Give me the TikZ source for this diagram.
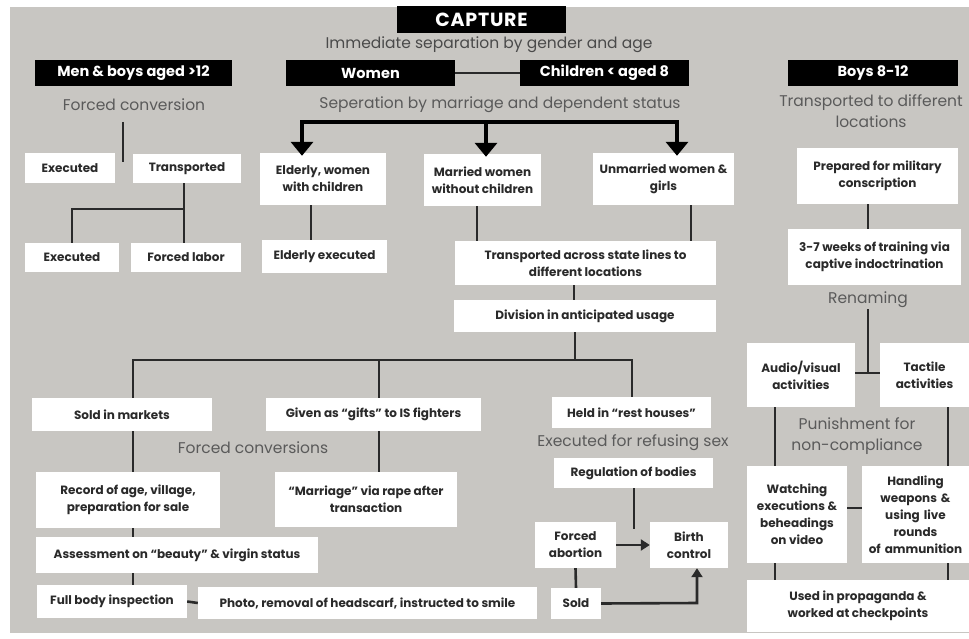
\documentclass[tikz,border=0pt]{standalone}
\usepackage{fontspec}
\setmainfont{Poppins}
\usepackage{tikz}
\usetikzlibrary{arrows.meta,positioning,calc}
\definecolor{paper}{HTML}{C8C6C2}
\definecolor{ink}{HTML}{2A2A2A}
\definecolor{note}{HTML}{5A5A5A}

\begin{document}
\begin{tikzpicture}[x=1pt, y=-1pt,
    box/.style={fill=white, text=ink, inner sep=2pt, align=center,
      font=\fontsize{12}{17}\selectfont\bfseries},
    head/.style={fill=black, text=white, inner sep=2pt,
      font=\fontsize{14.5}{16}\selectfont\bfseries},
    label/.style={text=note, align=center, inner sep=1pt,
      font=\fontsize{15.5}{21}\selectfont},
    sz/.style 2 args={minimum width=#1pt, minimum height=#2pt},
    link/.style={draw=ink, line width=2.6pt},
    bigarrow/.style={draw=black, line width=4pt, -{Triangle[width=22pt,length=14pt]}},
    smallarrow/.style={draw=ink, line width=2.6pt, -{Triangle[width=11pt,length=9pt]}}]

        \fill[white] (0,0) rectangle (969,639);
        \fill[paper] (10,7) rectangle (969,633);
        \useasboundingbox (0,0) rectangle (969,639);

        %% top row
        \node (capture) [head, sz={169}{27}, font=\fontsize{19}{20}\selectfont\bfseries\addfontfeature{LetterSpace=4}] at (481.5,19.5) {CAPTURE};
        \node (immediate) [label, text=ink!85] at (489,45) {Immediate separation by gender and age};
        \node (men) [head, sz={197}{26}] at (133.5,73) {Men \& boys aged >12};
        \node (women) [head, sz={169}{26}] at (370.5,73) {Women};
        \node (children) [head, sz={169}{26}] at (604.5,73) {Children < aged 8};
        \node (boys) [head, sz={170}{26}] at (873,73) {Boys 8-12};

        \node (fconv) [label] at (134,105) {Forced conversion};
        \node (seperation) [label] at (500,105) {Seperation by marriage and dependent status};
        \node (tolocations) [label] at (871,111) {Transported to different\\locations};

        %% men
        \node (exec1) [box, sz={90}{30}] at (70,168) {Executed};
        \node (transp) [box, sz={108}{29}] at (187,168.5) {Transported};
        \node (exec2) [box, sz={94}{29}] at (72,257.5) {Executed};
        \node (labor) [box, sz={110}{29}] at (186,257.5) {Forced labor};

        %% women and children
        \node (elderly) [box, sz={126}{52}] at (323,179) {Elderly, women\\with children};
        \node (married) [box, sz={117}{52}] at (482.5,180) {Married women\\without children};
        \node (unmarried) [box, sz={141}{52}] at (663.5,179) {Unmarried women \&\\girls};
        \node (eldexec) [box, sz={125}{33}] at (324.5,256.5) {Elderly executed};
        \node (across) [box, sz={261}{44}] at (585.5,263) {Transported across state lines to\\different locations};
        \node (division) [box, sz={262}{32}] at (585,316) {Division in anticipated usage};

        \node (markets) [box, sz={180}{33}] at (122,414.5) {Sold in markets};
        \node (gifts) [box, sz={215}{33}] at (373.5,414.5) {Given as ``gifts'' to IS fighters};
        \node (rest) [box, sz={159}{31}] at (631.5,412.5) {Held in ``rest houses''};
        \node (fconvs) [label] at (253,448) {Forced conversions};
        \node (refusing) [label] at (633,443) {Executed for refusing sex};

        \node (record) [box, sz={184}{56}] at (128,500) {Record of age, village,\\preparation for sale};
        \node (marriage) [box, sz={182}{55}] at (366,499.5) {``Marriage'' via rape after\\transaction};
        \node (regulation) [box, sz={159}{30}] at (633.5,473) {Regulation of bodies};
        \node (assess) [box, sz={282}{36}] at (177,555) {Assessment on ``beauty'' \& virgin status};
        \node (abortion) [box, sz={81}{46}] at (575.5,545) {Forced\\abortion};
        \node (birth) [box, sz={78}{46}] at (689,545) {Birth\\control};
        \node (fullbody) [box, sz={150}{33}] at (112,601.5) {Full body inspection};
        \node (photo) [box, sz={339}{32}, inner sep=0pt] at (367.5,603) {Photo, removal of headscarf, instructed to smile};
        \node (soldb) [box, sz={50}{31}] at (576,603.5) {Sold};

        %% boys
        \node (prepared) [box, sz={161}{56}] at (877.5,176) {Prepared for military\\conscription};
        \node (weeks) [box, sz={173}{56}] at (874.5,257) {3-7 weeks of training via\\captive indoctrination};
        \node (renaming) [label] at (868,300) {Renaming};
        \node (audio) [box, sz={108}{64}] at (801,375) {Audio/visual\\activities};
        \node (tactile) [box, sz={89}{64}] at (924.5,375) {Tactile\\activities};
        \node (punish) [label] at (857,436) {Punishment for\\non-compliance};
        \node (watching) [box, sz={100}{97}] at (797,514.5) {Watching\\executions \&\\beheadings\\on video};
        \node (handling) [box, sz={107}{97}, text width=99pt] at (915.5,514.5) {Handling\\weapons \&\\using live\\rounds\\of ammunition};
        \node (propaganda) [box, sz={222}{52}] at (858,606) {Used in propaganda \&\\worked at checkpoints};

        %% line positions
        \coordinate (fcTop) at (123,122);
        \coordinate (fcEnd) at (123,162);
        \coordinate (tf) at (184,209);
        \coordinate (sepL) at (302,122);
        \coordinate (sepM) at (486,122);
        \coordinate (sepR) at (677,122);
        \coordinate (el) at (311,0);
        \coordinate (mw) at (477,0);
        \coordinate (uw) at (691,0);
        \coordinate (dv) at (574,0);
        \coordinate (divfork) at (575,360);
        \coordinate (mk) at (133,360);
        \coordinate (gf) at (379,360);
        \coordinate (rh) at (632,360);
        \coordinate (rg) at (634,529);
        \coordinate (sb) at (697,603);
        \coordinate (rc) at (868,0);
        \coordinate (tbar) at (868,373);
        \coordinate (av) at (775,0);
        \coordinate (tc) at (948,0);
        \coordinate (wh) at (0,508);

        \draw[link] (women.east) -- (children.west);
        \draw[line width=4pt] ([xshift=-2pt]sepL) -- ([xshift=2pt]sepR);
        \draw[bigarrow] (sepL) -- ([yshift=-3pt]sepL |- elderly.north);
        \draw[bigarrow] (sepM) -- ([yshift=-3pt]sepM |- married.north);
        \draw[bigarrow] (sepR) -- ([yshift=-3pt]sepR |- unmarried.north);

        \draw[link] (fcTop) -- (fcEnd);
        \draw[link] (tf |- transp.south) -- (tf |- labor.north);
        \draw[link] (tf) -| (exec2.north);

        \draw[link] (el |- elderly.south) -- (el |- eldexec.north);
        \draw[link] (mw |- married.south) -- (mw |- across.north);
        \draw[link] (uw |- unmarried.south) -- (uw |- across.north);
        \draw[link] (dv |- across.south) -- (dv |- division.north);

        \draw[link] (divfork |- division.south) -- (divfork);
        \draw[link] (mk |- markets.north) -- (mk) -- (rh) -- (rh |- rest.north);
        \draw[link] (gf) -- (gf |- gifts.north);
        \draw[link] (gf |- gifts.south) -- (gf |- marriage.north);
        \draw[link] (mk |- markets.south) -- (mk |- record.north);
        \draw[link] (mk |- record.south) -- (mk |- assess.north);
        \draw[link] (mk |- assess.south) -- (mk |- fullbody.north);
        \draw[link] (fullbody.east) -- (photo.west);

        \draw[link] (rg |- regulation.south) -- (rg);
        \draw[smallarrow] (abortion.east) -- (birth.west);
        \draw[link] (abortion.south) -- (soldb.north);
        \draw[smallarrow] (soldb.east) -- (sb) -- (sb |- birth.south);

        \draw[link] (rc |- prepared.south) -- (rc |- weeks.north);
        \draw[link] (renaming.south) -- (tbar);
        \draw[link] (audio.east |- tbar) -- (tactile.west |- tbar);
        \draw[link] (av |- audio.south) -- (av |- watching.north);
        \draw[link] (tc |- tactile.south) -- (tc |- handling.north);
        \draw[link] (watching.east |- wh) -- (handling.west |- wh);
        \draw[link] (av |- watching.south) -- (av |- propaganda.north);
        \draw[link] (tc |- handling.south) -- (tc |- propaganda.north);
      \end{tikzpicture}
\end{document}
